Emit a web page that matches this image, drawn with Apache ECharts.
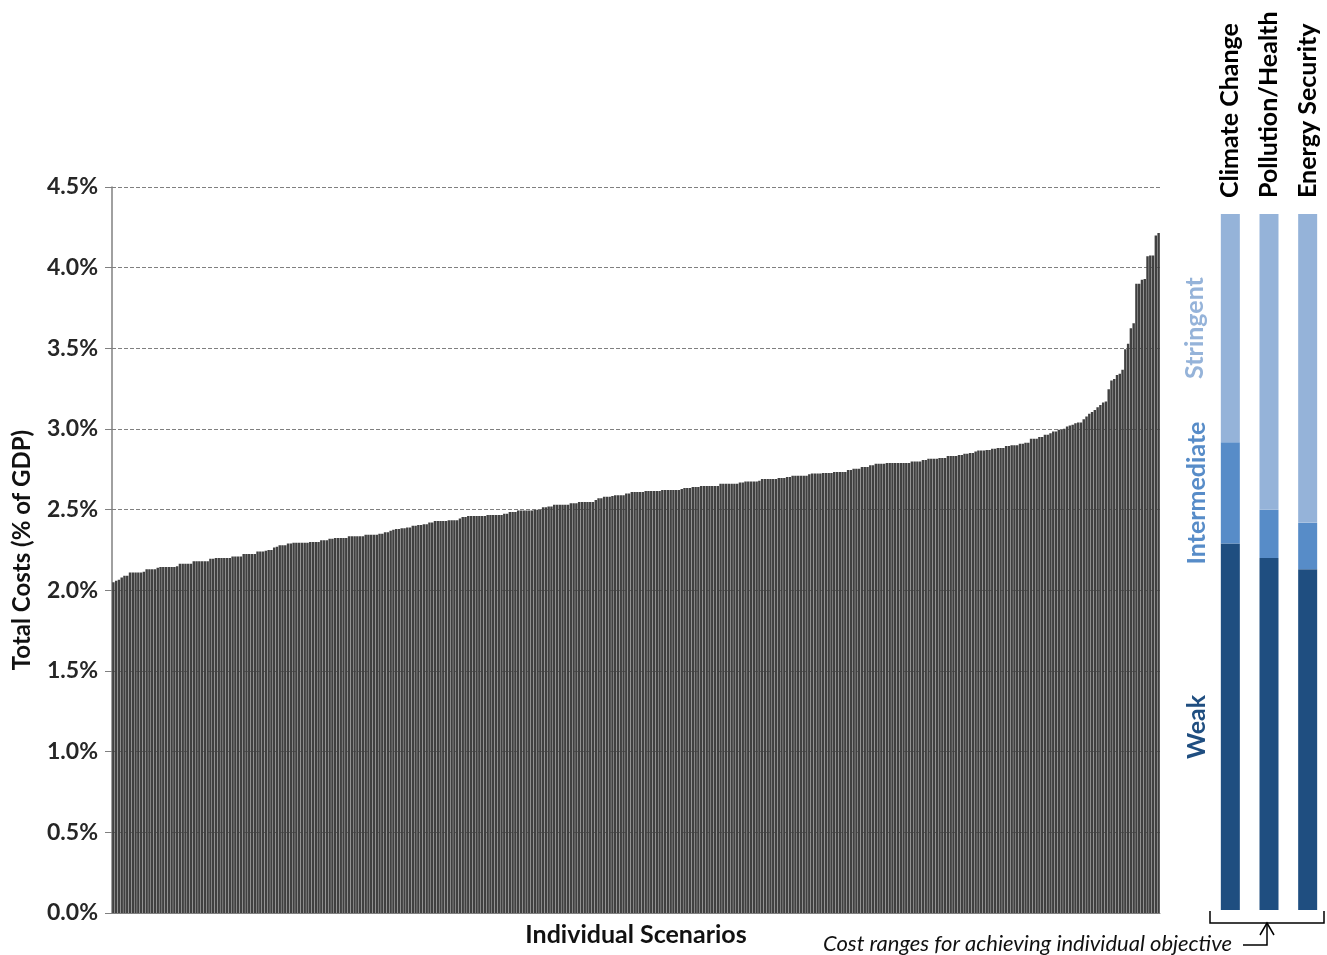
<!DOCTYPE html>
<html>
<head>
<meta charset="utf-8">
<title>Total costs of individual scenarios</title>
<script src="https://cdn.jsdelivr.net/npm/echarts@6/dist/echarts.min.js"></script>
<style>
  html, body { margin: 0; background: #fff; }
  #chart { width: 1327px; height: 955px; }
</style>
</head>
<body>
<div id="chart"></div>
<script>
// total cost of each scenario, % of GDP, sorted low to high
const scenarioCosts = [
  2.05, 2.06, 2.065, 2.08, 2.09, 2.09, 2.11, 2.11, 2.11, 2.11, 2.11, 2.115,
  2.13, 2.13, 2.13, 2.13, 2.14, 2.145, 2.145, 2.145, 2.145, 2.145, 2.145, 2.15,
  2.165, 2.165, 2.165, 2.165, 2.165, 2.18, 2.18, 2.18, 2.18, 2.18, 2.18, 2.195, 2.195,
  2.2, 2.2, 2.2, 2.2, 2.2, 2.2, 2.21, 2.21, 2.21, 2.21,
  2.225, 2.225, 2.225, 2.225, 2.225, 2.24, 2.24, 2.24, 2.245, 2.25, 2.25, 2.265, 2.27,
  2.28, 2.28, 2.28, 2.29, 2.29, 2.295, 2.295, 2.295, 2.295, 2.295, 2.295,
  2.30, 2.30, 2.30, 2.30, 2.31, 2.31, 2.31, 2.32, 2.32,
  2.325, 2.325, 2.325, 2.325, 2.325, 2.335, 2.335, 2.335, 2.335, 2.335, 2.335,
  2.345, 2.345, 2.345, 2.345, 2.345, 2.35, 2.35, 2.36, 2.36, 2.37, 2.375,
  2.38, 2.38, 2.385, 2.385, 2.39, 2.39, 2.40, 2.40, 2.405, 2.405, 2.41, 2.41, 2.42, 2.42,
  2.43, 2.43, 2.43, 2.43, 2.43, 2.435, 2.435, 2.435, 2.435, 2.445, 2.455, 2.455,
  2.46, 2.46, 2.46, 2.46, 2.46, 2.46, 2.46, 2.467, 2.467, 2.467, 2.467, 2.467, 2.467,
  2.475, 2.475, 2.485, 2.485, 2.485, 2.495, 2.495, 2.495, 2.495, 2.495, 2.495,
  2.50, 2.50, 2.50, 2.515, 2.515, 2.52, 2.52,
  2.53, 2.53, 2.53, 2.53, 2.53, 2.53, 2.54, 2.54, 2.54,
  2.548, 2.548, 2.548, 2.548, 2.548, 2.548, 2.56, 2.57, 2.57,
  2.58, 2.58, 2.58, 2.585, 2.59, 2.59, 2.59, 2.59, 2.60, 2.60,
  2.61, 2.61, 2.61, 2.61, 2.61, 2.615, 2.615, 2.615, 2.615, 2.615, 2.615,
  2.622, 2.622, 2.622, 2.622, 2.622, 2.622, 2.622, 2.628, 2.635, 2.635, 2.635,
  2.64, 2.64, 2.64, 2.647, 2.647, 2.647, 2.647, 2.647, 2.647, 2.647,
  2.66, 2.66, 2.66, 2.66, 2.66, 2.66, 2.66, 2.668, 2.668,
  2.674, 2.674, 2.674, 2.674, 2.674, 2.68, 2.69, 2.69, 2.69, 2.69, 2.69, 2.69,
  2.697, 2.697, 2.697, 2.703, 2.703, 2.71, 2.71, 2.71, 2.71, 2.71, 2.71,
  2.72, 2.724, 2.724, 2.724, 2.724, 2.728, 2.728, 2.728, 2.728,
  2.734, 2.734, 2.734, 2.734, 2.734, 2.746, 2.746, 2.753, 2.753, 2.753,
  2.765, 2.765, 2.765, 2.775, 2.775, 2.784, 2.784, 2.784, 2.784,
  2.79, 2.79, 2.79, 2.79, 2.79, 2.79, 2.79, 2.79, 2.79,
  2.798, 2.798, 2.798, 2.798, 2.808, 2.808, 2.815, 2.815, 2.815, 2.815,
  2.82, 2.82, 2.82, 2.833, 2.833, 2.833, 2.833, 2.839, 2.839,
  2.846, 2.846, 2.852, 2.852, 2.86, 2.866, 2.866, 2.866, 2.87, 2.87,
  2.877, 2.877, 2.883, 2.883, 2.883, 2.895, 2.895, 2.90, 2.90, 2.90,
  2.908, 2.908, 2.914, 2.914, 2.939, 2.939, 2.939, 2.95, 2.95,
  2.964, 2.964, 2.974, 2.984, 2.984, 2.995, 2.995, 3.001,
  3.015, 3.021, 3.027, 3.035, 3.04, 3.04,
  3.06, 3.077, 3.094, 3.105, 3.118, 3.135, 3.149, 3.164, 3.17,
  3.247, 3.30, 3.31, 3.335, 3.342, 3.367, 3.495, 3.528, 3.625, 3.656,
  3.90, 3.90, 3.925, 3.93, 4.07, 4.075, 4.075, 4.20, 4.215
];
const scenarioIds = scenarioCosts.map((_, i) => 'S' + (i + 1));

// cost ranges for achieving each objective on its own
const objectives = ['Climate Change', 'Pollution/Health', 'Energy Security'];
const weakCost = [2.28, 2.19, 2.12];
const intermediateCost = [0.63, 0.30, 0.29];
const stringentCost = [1.42, 1.84, 1.92];

const FONT = 'Lato, "Open Sans", sans-serif';
const chart = echarts.init(document.getElementById('chart'));

chart.setOption({
  animation: false,
  textStyle: { fontFamily: FONT },
  grid: [
    { left: 112, right: 167, top: 187, bottom: 42 },
    { left: 1211, width: 117, top: 214, bottom: 45 }
  ],
  xAxis: [
    {
      type: 'category',
      gridIndex: 0,
      data: scenarioIds,
      axisTick: { show: false },
      axisLabel: { show: false },
      axisLine: { lineStyle: { color: '#808080' } },
      name: 'Individual Scenarios',
      nameLocation: 'middle',
      nameGap: 9,
      nameTextStyle: { fontSize: 25, fontWeight: 'bold', color: '#111' }
    },
    {
      type: 'category',
      gridIndex: 1,
      position: 'top',
      data: objectives,
      axisLine: { show: false },
      axisTick: { show: false },
      axisLabel: { rotate: 90, margin: 16, fontSize: 25, fontWeight: 'bold', color: '#000' }
    }
  ],
  yAxis: [
    {
      type: 'value',
      gridIndex: 0,
      min: 0,
      max: 4.5,
      interval: 0.5,
      axisLine: { show: true, lineStyle: { color: '#808080', width: 1.5 } },
      axisTick: { show: true, length: 7, lineStyle: { color: '#808080' } },
      splitLine: { lineStyle: { type: [4, 2], color: '#808080' } },
      axisLabel: {
        formatter: v => v.toFixed(1) + '%',
        fontSize: 23,
        fontWeight: 'bold',
        color: '#262626',
        margin: 14
      },
      name: 'Total Costs (% of GDP)',
      nameLocation: 'middle',
      nameGap: 78,
      nameTextStyle: { fontSize: 24, fontWeight: 'bold', color: '#111' }
    },
    { type: 'value', gridIndex: 1, min: 0, max: 4.33, show: false }
  ],
  series: [
    {
      type: 'bar',
      data: scenarioCosts,
      barCategoryGap: '12%',
      itemStyle: { color: '#404040' },
      silent: true
    },
    {
      type: 'bar', name: 'Weak', stack: 'obj', xAxisIndex: 1, yAxisIndex: 1,
      data: weakCost, barWidth: 19, itemStyle: { color: '#1f4e80' }
    },
    {
      type: 'bar', name: 'Intermediate', stack: 'obj', xAxisIndex: 1, yAxisIndex: 1,
      data: intermediateCost, barWidth: 19, itemStyle: { color: '#578cc8' }
    },
    {
      type: 'bar', name: 'Stringent', stack: 'obj', xAxisIndex: 1, yAxisIndex: 1,
      data: stringentCost, barWidth: 19, itemStyle: { color: '#95b3d9' }
    }
  ],
  graphic: [
    {
      type: 'text', x: 1197, y: 727, rotation: Math.PI / 2,
      style: { text: 'Weak', fill: '#1f4e80', font: 'bold 25px ' + FONT, textAlign: 'center', textVerticalAlign: 'middle' }
    },
    {
      type: 'text', x: 1197, y: 493, rotation: Math.PI / 2,
      style: { text: 'Intermediate', fill: '#578cc8', font: 'bold 25px ' + FONT, textAlign: 'center', textVerticalAlign: 'middle' }
    },
    {
      type: 'text', x: 1195, y: 328, rotation: Math.PI / 2,
      style: { text: 'Stringent', fill: '#95b3d9', font: 'bold 25px ' + FONT, textAlign: 'center', textVerticalAlign: 'middle' }
    },
    {
      type: 'polyline',
      shape: { points: [[1210, 911], [1210, 923], [1324, 923], [1324, 911]] },
      style: { stroke: '#000', lineWidth: 1.5, fill: null }
    },
    {
      type: 'polyline',
      shape: { points: [[1243, 945], [1267, 945], [1267, 924]] },
      style: { stroke: '#000', lineWidth: 1.5, fill: null }
    },
    {
      type: 'polyline',
      shape: { points: [[1260, 935], [1267, 923], [1274, 935]] },
      style: { stroke: '#000', lineWidth: 1.5, fill: null }
    },
    {
      type: 'text', x: 1232, y: 944,
      style: {
        text: 'Cost ranges for achieving individual objective',
        fill: '#111', font: 'italic 22px ' + FONT, textAlign: 'right', textVerticalAlign: 'middle'
      }
    }
  ]
});
</script>
</body>
</html>
